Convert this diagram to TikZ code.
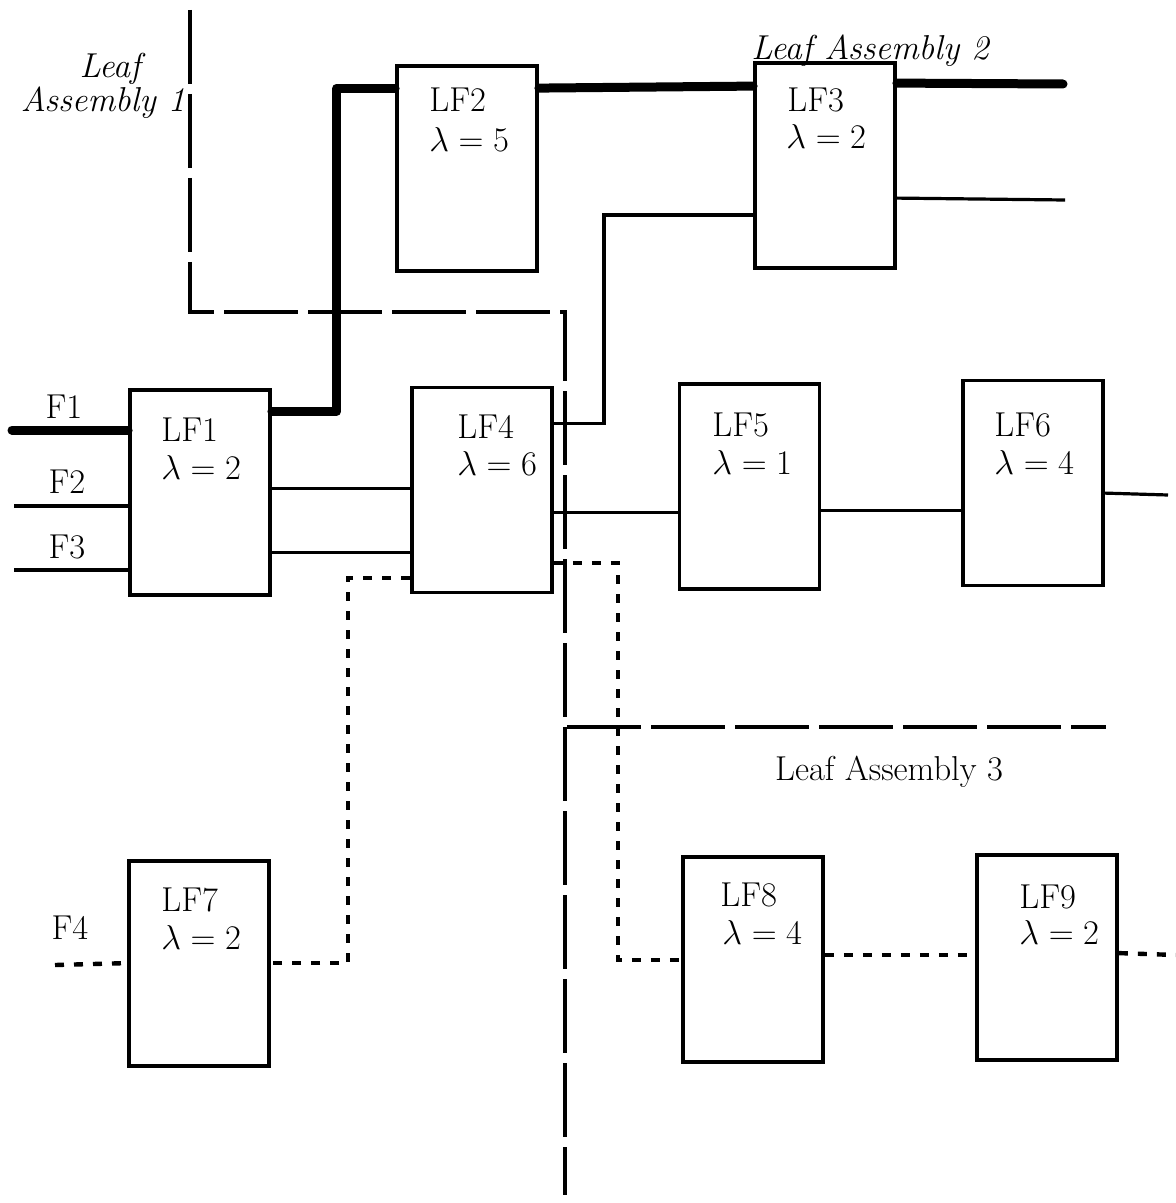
\documentclass[tikz,border=0pt]{standalone}
\usetikzlibrary{calc}
\begin{document}
\begin{tikzpicture}[x=0.5pt,y=-0.5pt,
  box/.style={draw, line width=1.9pt, fill=white, minimum width=70pt, minimum height=102.5pt, inner sep=0pt},
  wire/.style={line width=1.6pt},
  heavy/.style={line width=4.5pt, line cap=round, line join=round},
  dotline/.style={line width=2.2pt, dash pattern=on 4.5pt off 5pt},
  bound/.style={line width=1.8pt, dash pattern=on 37pt off 5pt},
  txt/.style={font=\LARGE, inner sep=0pt},
  itxt/.style={font=\LARGE\itshape, inner sep=0pt}]
\useasboundingbox (0,0) rectangle (1176,1203);

% boxes
\node[box] (lf1) at (200,492.5) {};
\node[box] (lf2) at (467,168.5) {};
\node[box] (lf3) at (825,165.5) {};
\node[box] (lf4) at (482,490) {};
\node[box] (lf5) at (749.5,486.5) {};
\node[box] (lf6) at (1033,483) {};
\node[box] (lf7) at (199,963.5) {};
\node[box] (lf8) at (753,959.5) {};
\node[box] (lf9) at (1047,957.5) {};

% box labels
\node[txt, anchor=west] (t1a) at (161,430) {LF1};
\node[txt, anchor=west] (t1b) at (161,467) {$\lambda = 2$};
\node[txt, anchor=west] (t2a) at (429,100) {LF2};
\node[txt, anchor=west] (t2b) at (429,140) {$\lambda = 5$};
\node[txt, anchor=west] (t3a) at (787,100) {LF3};
\node[txt, anchor=west] (t3b) at (786,137) {$\lambda = 2$};
\node[txt, anchor=west] (t4a) at (457,427) {LF4};
\node[txt, anchor=west] (t4b) at (457,463) {$\lambda = 6$};
\node[txt, anchor=west] (t5a) at (712,425) {LF5};
\node[txt, anchor=west] (t5b) at (712,462) {$\lambda = 1$};
\node[txt, anchor=west] (t6a) at (994,425) {LF6};
\node[txt, anchor=west] (t6b) at (994,462) {$\lambda = 4$};
\node[txt, anchor=west] (t7a) at (161,900) {LF7};
\node[txt, anchor=west] (t7b) at (161,937) {$\lambda = 2$};
\node[txt, anchor=west] (t8a) at (720,895) {LF8};
\node[txt, anchor=west] (t8b) at (722,932) {$\lambda = 4$};
\node[txt, anchor=west] (t9a) at (1019,897) {LF9};
\node[txt, anchor=west] (t9b) at (1019,932) {$\lambda = 2$};

% input labels
\node[txt] (tf1) at (64,407) {F1};
\node[txt] (tf2) at (67,482) {F2};
\node[txt] (tf3) at (67,547) {F3};
\node[txt] (tf4) at (70,928) {F4};

% assembly labels
\node[itxt, anchor=base] (la1a) at (110,78) {Leaf};
\node[itxt, anchor=base] (la1b) at (103,112) {Assembly 1};
\node[itxt, anchor=base] (la2) at (870,60) {Leaf Assembly 2};
\node[txt, anchor=base] (la3) at (889,780) {Leaf Assembly 3};

% free ends
\coordinate (f1) at (12,430);
\coordinate (f2) at (14,506);
\coordinate (f3) at (14,570);
\coordinate (f4) at (55,965);
\coordinate (o1) at (1063,84);
\coordinate (o2) at (1065,200);
\coordinate (o3) at (1168,495);
\coordinate (o4) at (1176,955);

% heavy path
\draw[heavy] (f1) -- (f1 -| lf1.west);
\draw[heavy] ($(lf1.north east)+(0,23)$) -- ++(65,0) |- ($(lf2.north west)+(0,24)$);
\draw[heavy] ($(lf2.north east)+(0,24)$) -- ($(lf3.north west)+(0,25)$);
\draw[heavy] ($(lf3.north east)+(0,22)$) -- (o1);

% thin wires
\draw[wire] (f2) -- (f2 -| lf1.west);
\draw[wire] (f3) -- (f3 -| lf1.west);
\draw[wire] ($(lf3.north east)+(0,137)$) -- (o2);
\draw[wire] ($(lf4.north east)+(0,37.5)$) -- ++(50,0) |- ($(lf3.north west)+(0,154)$);
\draw[wire] ($(lf1.north east)+(0,100)$) -- ($(lf4.north west)+(0,102.5)$);
\draw[wire] ($(lf1.north east)+(0,164)$) -- ($(lf4.north west)+(0,166.5)$);
\draw[wire] ($(lf4.north east)+(0,126.5)$) -- ($(lf5.north west)+(0,130)$);
\draw[wire] ($(lf5.north east)+(0,128)$) -- ($(lf6.north west)+(0,131.5)$);
\draw[wire] ($(lf6.north east)+(0,114.5)$) -- (o3);

% dotted wires
\draw[dotline] ($(lf4.north west)+(0,192.5)$) -- ++(-62,0) |- ($(lf7.north east)+(0,104)$);
\draw[dotline] (f4) -- ($(lf7.north west)+(0,104)$);
\draw[dotline] ($(lf4.north east)+(0,177.5)$) -- ++(64,0) |- ($(lf8.north west)+(0,105)$);
\draw[dotline] ($(lf8.north east)+(0,100)$) -- ($(lf9.north west)+(0,102)$);
\draw[dotline] ($(lf9.north east)+(0,100)$) -- (o4);

% assembly boundaries
\coordinate (b1) at (190,10);
\coordinate (b2) at (190,312);
\coordinate (b3) at (565,312);
\coordinate (b4) at (565,1195);
\coordinate (b5) at (567,727);
\coordinate (b6) at (1106,727);
\draw[bound] (b1) -- (b2) -- (b3) -- (b4);
\draw[bound] (b5) -- (b6);
\end{tikzpicture}
\end{document}
